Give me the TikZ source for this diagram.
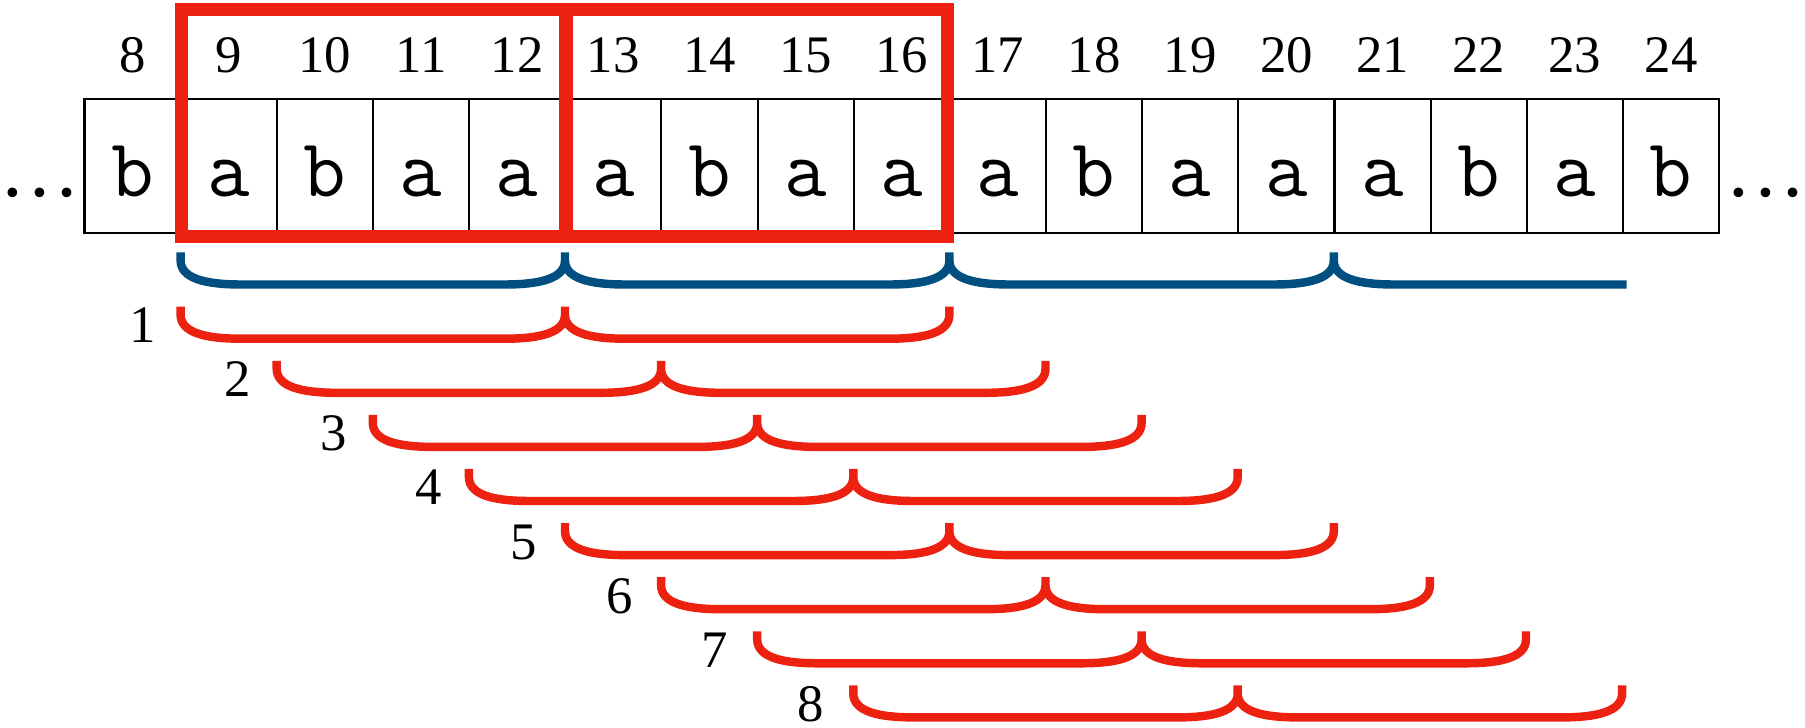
\documentclass[tikz,border=0pt]{standalone}
\usepackage{fontspec}
\setmainfont{Liberation Serif}
\usetikzlibrary{positioning,calc}
\definecolor{boxred}{RGB}{237,33,16}
\definecolor{braceblue}{RGB}{0,79,128}

\begin{document}
\begin{tikzpicture}[x=0.01cm,y=-0.01cm,
    cell/.style={draw,line width=0.6pt,minimum width=0.961cm,minimum height=1.337cm,
        inner sep=0pt,outer sep=0pt,text height=0.603cm,text depth=0pt,
        font=\fontsize{23.5}{27}\selectfont\ttfamily},
    idx/.style={inner sep=0pt,font=\fontsize{15}{18}\selectfont},
    ellip/.style={inner sep=0pt,font=\fontsize{23}{27}\selectfont},
    redframe/.style={draw=boxred,line width=3.7pt},
    redbrace/.style={draw=boxred,line width=2.4pt},
    bluebrace/.style={draw=braceblue,line width=2.4pt},
    halfbrace/.style={to path={-- ++(0,8) .. controls +(0,18) and +(-35,0) .. ++(60,24)
        -- ($(\tikztotarget)+(-60,32)$) .. controls +(35,0) and +(0,18) .. ($(\tikztotarget)+(0,8)$)
        -- (\tikztotarget)}},
    halfend/.style={to path={-- ++(0,8) .. controls +(0,18) and +(-35,0) .. ++(60,24)
        -- (\tikztotarget)}}]
        \useasboundingbox (0,0) rectangle (1805,728);

        % the string
        \node[cell] (c8) at (132.55,165.85) {b};
        \node[cell,right=0pt of c8] (c9) {a};
        \node[cell,right=0pt of c9] (c10) {b};
        \node[cell,right=0pt of c10] (c11) {a};
        \node[cell,right=0pt of c11] (c12) {a};
        \node[cell,right=0pt of c12] (c13) {a};
        \node[cell,right=0pt of c13] (c14) {b};
        \node[cell,right=0pt of c14] (c15) {a};
        \node[cell,right=0pt of c15] (c16) {a};
        \node[cell,right=0pt of c16] (c17) {a};
        \node[cell,right=0pt of c17] (c18) {b};
        \node[cell,right=0pt of c18] (c19) {a};
        \node[cell,right=0pt of c19] (c20) {a};
        \node[cell,right=0pt of c20] (c21) {a};
        \node[cell,right=0pt of c21] (c22) {b};
        \node[cell,right=0pt of c22] (c23) {a};
        \node[cell,right=0pt of c23] (c24) {b};

        \node[ellip,anchor=base] (ldots) at (40,196.5) {…};
        \node[ellip,anchor=base east] (rdots) at (1799,196.5) {…\kern-0.1em};

        % positions
        \node[idx,above=0.257cm of c8] (n8) {8};
        \node[idx,above=0.257cm of c9] (n9) {9};
        \node[idx,above=0.257cm of c10] (n10) {10};
        \node[idx,above=0.257cm of c11] (n11) {11};
        \node[idx,above=0.257cm of c12] (n12) {12};
        \node[idx,above=0.257cm of c13] (n13) {13};
        \node[idx,above=0.257cm of c14] (n14) {14};
        \node[idx,above=0.257cm of c15] (n15) {15};
        \node[idx,above=0.257cm of c16] (n16) {16};
        \node[idx,above=0.257cm of c17] (n17) {17};
        \node[idx,above=0.257cm of c18] (n18) {18};
        \node[idx,above=0.257cm of c19] (n19) {19};
        \node[idx,above=0.257cm of c20] (n20) {20};
        \node[idx,above=0.257cm of c21] (n21) {21};
        \node[idx,above=0.257cm of c22] (n22) {22};
        \node[idx,above=0.257cm of c23] (n23) {23};
        \node[idx,above=0.257cm of c24] (n24) {24};

        % the two red boxes
        \coordinate (fa) at (181.5,9.2);
        \coordinate (fb) at (566,236.5);
        \coordinate (fc) at (566,9.2);
        \coordinate (fd) at (947,236.5);
        \draw[redframe] (fa) rectangle (fb);
        \draw[redframe] (fc) rectangle (fd);

        % blue brace
        \coordinate (b1) at (180.6,252.5);
        \coordinate (b2) at (565,252.5);
        \coordinate (b3) at (949.4,252.5);
        \coordinate (b4) at (1333.8,252.5);
        \coordinate (b5) at (1626.5,284.5);
        \draw[bluebrace] (b1) to[halfbrace] (b2) to[halfbrace] (b3) to[halfbrace] (b4) to[halfend] (b5);

        % red braces
        \coordinate (r1a) at (180.6,306.7);
        \coordinate (r1b) at (565,306.7);
        \coordinate (r1c) at (949.4,306.7);

        \coordinate (r2a) at (276.7,360.8);
        \coordinate (r2b) at (661.1,360.8);
        \coordinate (r2c) at (1045.5,360.8);

        \coordinate (r3a) at (372.8,414.9);
        \coordinate (r3b) at (757.2,414.9);
        \coordinate (r3c) at (1141.6,414.9);

        \coordinate (r4a) at (468.9,469);
        \coordinate (r4b) at (853.3,469);
        \coordinate (r4c) at (1237.7,469);

        \coordinate (r5a) at (565,523.1);
        \coordinate (r5b) at (949.4,523.1);
        \coordinate (r5c) at (1333.8,523.1);

        \coordinate (r6a) at (661.1,577.2);
        \coordinate (r6b) at (1045.5,577.2);
        \coordinate (r6c) at (1429.9,577.2);

        \coordinate (r7a) at (757.2,631.3);
        \coordinate (r7b) at (1141.6,631.3);
        \coordinate (r7c) at (1526,631.3);

        \coordinate (r8a) at (853.3,685.4);
        \coordinate (r8b) at (1237.7,685.4);
        \coordinate (r8c) at (1622.1,685.4);

        \draw[redbrace] (r1a) to[halfbrace] (r1b) to[halfbrace] (r1c);
        \draw[redbrace] (r2a) to[halfbrace] (r2b) to[halfbrace] (r2c);
        \draw[redbrace] (r3a) to[halfbrace] (r3b) to[halfbrace] (r3c);
        \draw[redbrace] (r4a) to[halfbrace] (r4b) to[halfbrace] (r4c);
        \draw[redbrace] (r5a) to[halfbrace] (r5b) to[halfbrace] (r5c);
        \draw[redbrace] (r6a) to[halfbrace] (r6b) to[halfbrace] (r6c);
        \draw[redbrace] (r7a) to[halfbrace] (r7b) to[halfbrace] (r7c);
        \draw[redbrace] (r8a) to[halfbrace] (r8b) to[halfbrace] (r8c);

        \node[idx,anchor=base] (l1) at (142.5,342.7) {1};
        \node[idx,anchor=base] (l2) at (237.9,396.8) {2};
        \node[idx,anchor=base] (l3) at (333.3,450.9) {3};
        \node[idx,anchor=base] (l4) at (428.7,505) {4};
        \node[idx,anchor=base] (l5) at (524.1,559.1) {5};
        \node[idx,anchor=base] (l6) at (619.5,613.2) {6};
        \node[idx,anchor=base] (l7) at (714.9,667.3) {7};
        \node[idx,anchor=base] (l8) at (810.3,721.4) {8};
\end{tikzpicture}
\end{document}
